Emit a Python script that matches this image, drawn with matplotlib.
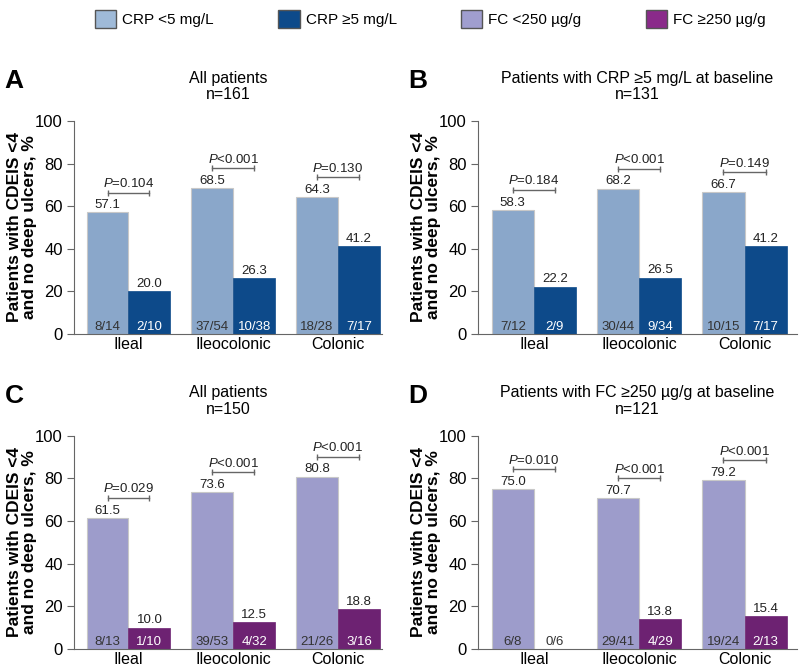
import matplotlib
matplotlib.use("Agg")
import numpy as np
import matplotlib.pyplot as plt
from matplotlib.patches import Patch
from matplotlib import font_manager

plt.rcParams['font.family'] = ['Liberation Sans', 'DejaVu Sans']
plt.rcParams['mathtext.fontset'] = 'custom'

names = sorted(set(f.name for f in font_manager.fontManager.ttflist))
narrow = "Liberation Sans Narrow" if "Liberation Sans Narrow" in names else "Liberation Sans"
plt.rcParams['mathtext.rm'] = narrow
plt.rcParams['mathtext.it'] = narrow + ':italic'

categories = ["Ileal", "Ileocolonic", "Colonic"]

# panel A - all patients, CRP
a_low = [57.1, 68.5, 64.3]
a_high = [20.0, 26.3, 41.2]
a_low_n = ["8/14", "37/54", "18/28"]
a_high_n = ["2/10", "10/38", "7/17"]
a_p = ["=0.104", "<0.001", "=0.130"]

# panel B - CRP >=5 at baseline
b_low = [58.3, 68.2, 66.7]
b_high = [22.2, 26.5, 41.2]
b_low_n = ["7/12", "30/44", "10/15"]
b_high_n = ["2/9", "9/34", "7/17"]
b_p = ["=0.184", "<0.001", "=0.149"]

# panel C - all patients, FC
c_low = [61.5, 73.6, 80.8]
c_high = [10.0, 12.5, 18.8]
c_low_n = ["8/13", "39/53", "21/26"]
c_high_n = ["1/10", "4/32", "3/16"]
c_p = ["=0.029", "<0.001", "<0.001"]

# panel D - FC >=250 at baseline
d_low = [75.0, 70.7, 79.2]
d_high = [0.0, 13.8, 15.4]
d_low_n = ["6/8", "29/41", "19/24"]
d_high_n = ["0/6", "4/29", "2/13"]
d_p = ["=0.010", "<0.001", "<0.001"]

crp_lo_col = "#8aa7ca"
crp_hi_col = "#0d4a8a"
fc_lo_col = "#9d9ccb"
fc_hi_col = "#6d2272"

fig = plt.figure(figsize=(8, 6.7), dpi=100)

w = 0.4
x = np.arange(len(categories))
small = dict(fontsize=9.5, fontfamily=narrow)


def panel(rect, letter, title, low, high, low_n, high_n, pvals, c1, c2, xlim):
    ax = fig.add_axes(rect)
    ax.bar(x - w / 2, low, w, color=c1, edgecolor="#c8c8c8", linewidth=0.8)
    ax.bar(x + w / 2, high, w, color=c2, edgecolor=c2, linewidth=0.5)
    for i in range(len(x)):
        ax.text(x[i] - w / 2, low[i] + 0.6, f"{low[i]:.1f}", ha="center", va="bottom",
                color="#222222", **small)
        ax.text(x[i] + w / 2, high[i] + 0.6, f"{high[i]:.1f}" if high[i] > 0 else "",
                ha="center", va="bottom", color="#222222", **small)
        ax.text(x[i] - w / 2, 3.4, low_n[i], ha="center", va="center", color="#333333", **small)
        ax.text(x[i] + w / 2, 3.4, high_n[i], ha="center", va="center",
                color="white" if high[i] > 0 else "#333333", **small)
        yb = max(low[i], high[i]) + 9.3
        ax.plot([x[i] - w / 2, x[i] + w / 2], [yb, yb], color="#666666", lw=1)
        ax.plot([x[i] - w / 2, x[i] + w / 2], [yb, yb], ls="none", marker="|",
                ms=5, mew=1, color="#666666")
        ax.text(x[i], yb + 1.2, "$P$" + pvals[i], ha="center", va="bottom",
                color="#222222", **small)
    ax.set_ylim(0, 100)
    ax.set_yticks(range(0, 101, 20))
    ax.set_yticklabels([str(v) for v in range(0, 101, 20)], fontfamily=narrow)
    ax.set_xlim(*xlim)
    ax.set_xticks(x)
    ax.set_xticklabels(categories, fontfamily=narrow)
    ax.tick_params(axis="x", length=0, labelsize=11.5, pad=2)
    ax.tick_params(axis="y", length=5, labelsize=12, color="#666666", pad=3)
    for s in ["top", "right"]:
        ax.spines[s].set_visible(False)
    for s in ["left", "bottom"]:
        ax.spines[s].set_color("#666666")
    ax.set_ylabel("Patients with CDEIS <4\nand no deep ulcers, %", fontsize=12.5,
                  fontweight="bold", fontfamily=narrow, linespacing=1.0)
    ax.yaxis.set_label_coords(-37 / (rect[2] * 800), 0.5)
    ax.set_title(title, fontsize=11.5, pad=16, linespacing=1.1)
    fig.text(rect[0] - 0.087, rect[1] + rect[3] + 0.06, letter, fontsize=19,
             fontweight="bold", va="center", ha="left")
    return ax


panel([0.0925, 0.5015, 0.385, 0.318], "A", "All patients\nn=161",
      a_low, a_high, a_low_n, a_high_n, a_p, crp_lo_col, crp_hi_col, (-0.52, 2.42))
panel([0.5975, 0.5015, 0.399, 0.318], "B", "Patients with CRP \u22655 mg/L at baseline\nn=131",
      b_low, b_high, b_low_n, b_high_n, b_p, crp_lo_col, crp_hi_col, (-0.53, 2.5))
panel([0.0925, 0.0315, 0.385, 0.318], "C", "All patients\nn=150",
      c_low, c_high, c_low_n, c_high_n, c_p, fc_lo_col, fc_hi_col, (-0.52, 2.42))
panel([0.5975, 0.0315, 0.399, 0.318], "D", "Patients with FC \u2265250 \u00b5g/g at baseline\nn=121",
      d_low, d_high, d_low_n, d_high_n, d_p, fc_lo_col, fc_hi_col, (-0.53, 2.5))

handles = [Patch(facecolor="#9fbad8", edgecolor="#555555"),
           Patch(facecolor=crp_hi_col, edgecolor="#555555"),
           Patch(facecolor="#a09ecf", edgecolor="#555555"),
           Patch(facecolor="#8a2a8a", edgecolor="#555555")]
labels = ["CRP <5 mg/L", "CRP \u22655 mg/L", "FC <250 \u00b5g/g", "FC \u2265250 \u00b5g/g"]
fig.legend(handles, labels, ncol=4, loc="upper center", bbox_to_anchor=(0.538, 1.005),
           frameon=False, fontsize=11, handlelength=1.4, handleheight=1.4,
           columnspacing=4.2, handletextpad=0.4)

plt.savefig("out.png", dpi=100)
